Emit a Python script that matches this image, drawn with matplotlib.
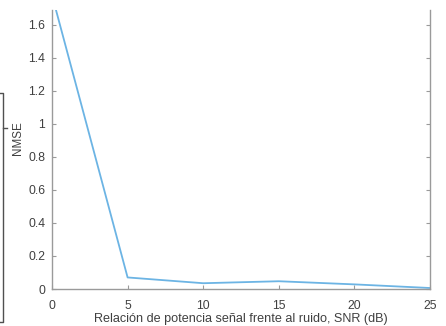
import matplotlib
matplotlib.use("Agg")
import matplotlib.pyplot as plt
from matplotlib.lines import Line2D

snr = [0, 5, 10, 15, 20, 25]
nmse = [1.78, 0.07, 0.035, 0.047, 0.028, 0.006]
xticks = [0, 5, 10, 15, 20, 25]
yticks = [0, 0.2, 0.4, 0.6, 0.8, 1.0, 1.2, 1.4, 1.6]
ytick_labels = ["0", "0.2", "0.4", "0.6", "0.8", "1", "1.2", "1.4", "1.6"]

plt.rcParams['font.family'] = ['Liberation Sans', 'DejaVu Sans']
W, H = 446, 326
fig = plt.figure(figsize=(W/100, H/100), dpi=100)
L, R, T, B = 52, 430, 10, 289
ax = fig.add_axes([L/W, 1-B/H, (R-L)/W, (B-T)/H])

txt = '#404040'
ax.plot(snr, nmse, color='#6cb4e4', lw=1.3, clip_on=True)
ax.set_xlim(0, 25)
ax.set_ylim(0, 1.69)
ax.set_xticks(xticks)
ax.set_yticks(yticks)
ax.set_yticklabels(ytick_labels)
for s in ['left', 'bottom', 'right']:
    ax.spines[s].set_color('#9a9a9a')
    ax.spines[s].set_linewidth(1.0)
ax.spines['top'].set_visible(False)
ax.tick_params(direction='in', length=3, width=0.8, color='#9a9a9a',
               labelsize=8.8, labelcolor=txt, right=True, top=False)
ax.tick_params(axis='y', pad=5)
ax.tick_params(axis='x', pad=8)
ax.set_xlabel('Relación de potencia señal frente al ruido, SNR (dB)', fontsize=9.1, color=txt)
ax.set_ylabel('NMSE', fontsize=8.4, color=txt)
ax.xaxis.label.set_va('center')
ax.yaxis.label.set_va('center')
ax.xaxis.set_label_coords(0.5, (B-319)/(B-T))
ax.yaxis.set_label_coords((18-L)/(R-L), (B-138)/(B-T))

# fragment of neighbouring figure at left edge
def fl(xs, ys):
    fig.add_artist(Line2D([x/W for x in xs], [1-y/H for y in ys],
                          color='#505050', lw=1.0))
fl([0, 3, 3, 0], [93, 93, 322, 322])
fl([3, 7], [128, 128])

fig.savefig('out.png', dpi=100)
